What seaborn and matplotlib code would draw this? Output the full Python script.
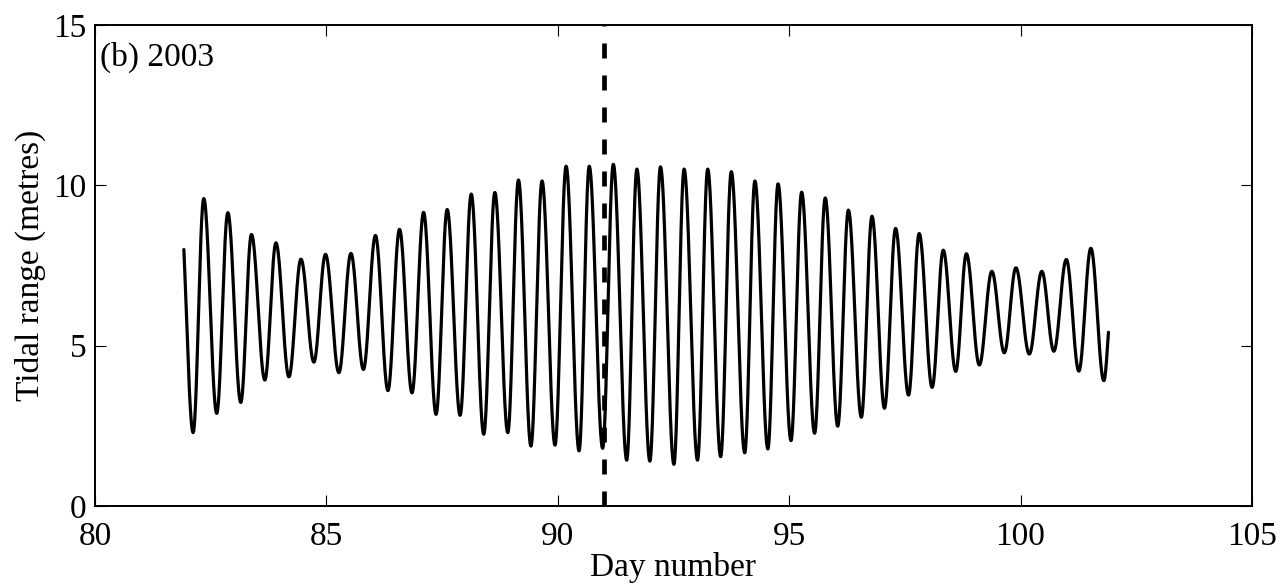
import numpy as np
import pandas as pd
import matplotlib
matplotlib.use("Agg")
import matplotlib.pyplot as plt
import seaborn as sns

# Turning points of the tidal curve (day number, range in metres)
extreme_days = [81.92, 82.12, 82.35, 82.63, 82.87, 83.15, 83.38, 83.67, 83.91, 84.19,
                84.45, 84.73, 84.98, 85.27, 85.53, 85.80, 86.06, 86.33, 86.58, 86.85,
                87.10, 87.37, 87.61, 87.89, 88.13, 88.40, 88.64, 88.92, 89.15, 89.42,
                89.66, 89.94, 90.18, 90.46, 90.68, 90.97, 91.20, 91.49, 91.71, 91.99,
                92.22, 92.51, 92.73, 93.02, 93.24, 93.52, 93.75, 94.04, 94.26, 94.54,
                94.76, 95.04, 95.27, 95.55, 95.78, 96.05, 96.28, 96.56, 96.79, 97.06,
                97.30, 97.58, 97.81, 98.09, 98.33, 98.60, 98.83, 99.11, 99.38, 99.65,
                99.90, 100.19, 100.46, 100.72, 100.99, 101.26, 101.52, 101.80, 101.90]
extreme_values = [8.00, 2.29, 9.59, 2.89, 9.15, 3.23, 8.47, 3.93, 8.21, 4.03,
                  7.70, 4.49, 7.85, 4.16, 7.88, 4.26, 8.44, 3.60, 8.63, 3.53,
                  9.16, 2.86, 9.25, 2.83, 9.73, 2.24, 9.78, 2.29, 10.17, 1.87,
                  10.14, 1.90, 10.60, 1.72, 10.60, 1.80, 10.66, 1.43, 10.51, 1.40,
                  10.58, 1.30, 10.51, 1.43, 10.51, 1.54, 10.43, 1.66, 10.14, 1.78,
                  10.05, 2.04, 9.79, 2.27, 9.61, 2.49, 9.23, 2.77, 9.04, 3.05,
                  8.66, 3.46, 8.50, 3.70, 7.98, 4.20, 7.87, 4.40, 7.32, 4.78,
                  7.43, 4.74, 7.32, 4.83, 7.69, 4.21, 8.04, 3.91, 5.42]
marker_day = 91.0
panel_label = "(b) 2003"
x_ticks = [80, 85, 90, 95, 100, 105]
y_ticks = [0, 5, 10, 15]

# smooth half-cosine between successive turning points
ts, ys = [], []
for i in range(len(extreme_days) - 1):
    t0, t1 = extreme_days[i], extreme_days[i + 1]
    v0, v1 = extreme_values[i], extreme_values[i + 1]
    s = np.linspace(0, 1, 40, endpoint=(i == len(extreme_days) - 2))
    if i == 0:
        s0 = 0.3
        ss = s0 + (1 - s0) * s
        w = (1 - np.cos(np.pi * ss)) / 2
        w0 = (1 - np.cos(np.pi * s0)) / 2
        w = (w - w0) / (1 - w0)
    elif i == len(extreme_days) - 2:
        s1 = 0.6
        ss = s1 * s
        w = (1 - np.cos(np.pi * ss)) / 2
        w = w / ((1 - np.cos(np.pi * s1)) / 2)
    else:
        w = (1 - np.cos(np.pi * s)) / 2
    ts.append(t0 + (t1 - t0) * s)
    ys.append(v0 + (v1 - v0) * w)
df = pd.DataFrame({"day": np.concatenate(ts), "range": np.concatenate(ys)})

sns.set_style("ticks")
plt.rcParams["font.family"] = ["Liberation Serif", "DejaVu Serif"]
plt.rcParams["font.size"] = 24
plt.rcParams["text.color"] = "black"
plt.rcParams["axes.labelcolor"] = "black"
plt.rcParams["xtick.color"] = "black"
plt.rcParams["ytick.color"] = "black"

fig = plt.figure(figsize=(12.84, 5.85), dpi=100)
ax = fig.add_axes([0.074, 0.135, 0.975 - 0.074, 0.957 - 0.135])

sns.lineplot(data=df, x="day", y="range", ax=ax, color="black", linewidth=2.3,
             sort=False, estimator=None)
ax.plot([marker_day, marker_day], [0, 15], color="black", linewidth=3.4,
        linestyle=(0, (10.8 / 3.4, 12.24 / 3.4)), solid_capstyle="butt",
        dash_capstyle="butt")

ax.set_xlim(80, 105)
ax.set_ylim(0, 15)
ax.set_xticks(x_ticks)
ax.set_yticks(y_ticks)
ax.tick_params(direction="in", length=8, width=0.8, top=True, right=True,
               labelsize=24, color="black", labelcolor="black")
ax.tick_params(axis="x", pad=11)
ax.tick_params(axis="y", pad=6)
for sp in ax.spines.values():
    sp.set_visible(True)
    sp.set_linewidth(1.4)
    sp.set_color("black")
ax.set_xlabel("Day number", fontsize=24, labelpad=0.5, color="black")
ax.set_ylabel("Tidal range (metres)", fontsize=24, labelpad=5, color="black")
ax.text(0.004, 0.965, panel_label, transform=ax.transAxes, ha="left", va="top",
        fontsize=24, color="black")

fig.savefig("out.png", dpi=100, facecolor="white")
